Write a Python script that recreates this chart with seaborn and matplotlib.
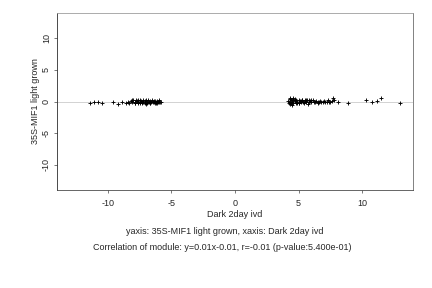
import numpy as np
import pandas as pd
import matplotlib
matplotlib.use('Agg')
import matplotlib.pyplot as plt
import seaborn as sns

# valores (Dark 2day ivd vs 35S-MIF1 light grown)
x_izq = [-11.4, -11.1, -10.8, -10.5, -9.6, -9.2, -8.9, -8.6, -8.4, -8.3, -8.2, -8.1,
         -8.0, -7.9, -7.85, -7.8, -7.7, -7.65, -7.6, -7.5, -7.45, -7.4, -7.3, -7.25,
         -7.2, -7.1, -7.05, -7.0, -6.9, -6.85, -6.8, -6.7, -6.65, -6.6, -6.5, -6.45,
         -6.4, -6.3, -6.25, -6.2, -6.1, -6.05, -6.0, -5.95, -5.9, -5.85, -7.9, -7.6,
         -7.3, -7.0, -6.7, -6.4, -6.1, -8.1, -7.5, -6.9, -6.3]
y_izq = [-0.2, -0.1, -0.1, -0.2, -0.1, -0.4, -0.1, -0.3, 0.0, -0.2, 0.1, -0.1,
         0.2, 0.0, -0.2, 0.3, 0.1, -0.1, 0.2, 0.0, -0.3, 0.1, -0.1, 0.2,
         0.0, -0.2, 0.1, -0.4, 0.0, 0.2, -0.1, 0.1, -0.3, 0.0, 0.2, -0.1,
         0.0, 0.1, -0.2, 0.0, 0.1, -0.1, 0.0, 0.2, -0.1, 0.0, -0.3, -0.2,
         -0.3, 0.2, -0.2, 0.1, -0.2, 0.3, 0.2, -0.3, -0.3]

x_der = [4.2, 4.25, 4.3, 4.35, 4.4, 4.45, 4.5, 4.55, 4.6, 4.7, 4.75, 4.8,
         4.9, 5.0, 5.05, 5.1, 5.2, 5.3, 5.35, 5.4, 5.5, 5.6, 5.7, 5.75,
         5.8, 5.9, 6.0, 6.1, 6.2, 6.3, 6.4, 6.5, 6.6, 6.7, 6.8, 6.9,
         7.0, 7.1, 7.2, 7.3, 7.4, 7.5, 7.6, 7.7, 7.8, 8.1, 8.9, 10.3,
         10.8, 11.2, 11.5, 13.0, 4.3, 4.5, 4.7, 5.0, 5.3, 5.6, 4.4, 4.6,
         4.9, 5.5, 6.0, 6.5, 4.3, 4.8, 5.2, 5.8]
y_der = [0.1, -0.3, 0.4, -0.1, 0.2, -0.5, 0.0, 0.3, -0.2, 0.1, 0.4, -0.2,
         0.0, 0.2, -0.3, 0.1, -0.1, 0.2, 0.0, -0.2, 0.1, -0.1, 0.2, -0.4,
         0.0, 0.1, -0.1, 0.2, 0.0, -0.1, 0.1, -0.2, 0.0, 0.1, -0.1, 0.0,
         0.1, -0.1, 0.0, 0.2, -0.1, 0.0, 0.1, 0.5, 0.3, -0.1, -0.2, 0.2,
         0.0, 0.1, 0.5, -0.2, 0.6, 0.3, 0.2, -0.3, 0.3, 0.2, -0.2, 0.5,
         -0.3, 0.3, 0.2, -0.1, -0.4, 0.3, 0.1, 0.2]

df = pd.DataFrame({'x': x_izq + x_der, 'y': y_izq + y_der})

sns.set_style('white')
plt.rcParams['font.family'] = ['Liberation Sans', 'DejaVu Sans']
plt.rcParams['axes.unicode_minus'] = False

fig = plt.figure(figsize=(6, 4), dpi=72)
ax = fig.add_axes([57/432, 1 - 190/288, 356/432, 177/288])

ax.axhline(0, color='#c8c8c8', linewidth=0.8, zorder=1)
sns.scatterplot(data=df, x='x', y='y', ax=ax, marker='+', color='black',
                s=18, linewidth=0.9, zorder=2)

ax.set_xlim(-14, 14)
ax.set_ylim(-14, 14)
ax.set_xticks([-10, -5, 0, 5, 10])
ax.set_yticks([-10, -5, 0, 5, 10])
ax.tick_params(axis='both', direction='out', length=3, width=0.6,
               labelsize=9, left=True, bottom=True)
ax.tick_params(axis='x', pad=6)
ax.tick_params(axis='y', pad=3)
plt.setp(ax.get_yticklabels(), rotation=90, va='center')

ax.set_xlabel('Dark 2day ivd', fontsize=9, labelpad=2)
ax.set_ylabel('35S-MIF1 light grown', fontsize=9, labelpad=2)

ax.spines['left'].set_color('#222222')
ax.spines['bottom'].set_color('#444444')
ax.spines['top'].set_color('#999999')
ax.spines['right'].set_color('#666666')
for s in ax.spines.values():
    s.set_linewidth(0.8)

fig.text(225/432, 1 - 232/288, 'yaxis: 35S-MIF1 light grown, xaxis: Dark 2day ivd',
         ha='center', va='center', fontsize=9)
fig.text(222/432, 1 - 248/288,
         'Correlation of module: y=0.01x-0.01, r=-0.01 (p-value:5.400e-01)',
         ha='center', va='center', fontsize=9)

fig.savefig('out.png', dpi=72)
